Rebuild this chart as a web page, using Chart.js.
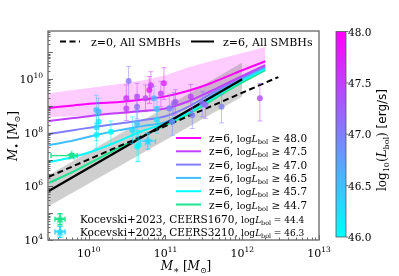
<!DOCTYPE html>
<html>
<head>
<meta charset="utf-8">
<script src="https://cdn.jsdelivr.net/npm/chart.js@4/dist/chart.umd.min.js"></script>
<style>
  html, body { margin: 0; padding: 0; background: #fff; }
  #chart { display: block; }
</style>
</head>
<body>
<canvas id="chart" width="399" height="276"></canvas>
<script>
// all values are log10

// model curves for z=6, one per luminosity cut
const curveLogMstar = [9.48, 9.8, 10.1, 10.4, 10.7, 11.0, 11.3, 11.6, 11.9, 12.3];
const curveLbolCuts = [48.0, 47.5, 47.0, 46.5, 45.7, 44.7];
const curveL480 = [8.93, 9.02, 9.10, 9.15, 9.24, 9.36, 9.57, 9.86, 10.22, 10.67];
const curveL475 = [8.44, 8.55, 8.66, 8.74, 8.81, 8.91, 9.18, 9.57, 9.98, 10.53];
const curveL470 = [7.96, 8.10, 8.23, 8.35, 8.47, 8.62, 8.98, 9.47, 9.93, 10.48];
const curveL465 = [7.54, 7.71, 7.92, 8.10, 8.25, 8.40, 8.84, 9.38, 9.87, 10.44];
const curveL457 = [6.91, 7.10, 7.36, 7.70, 8.07, 8.35, 8.75, 9.28, 9.80, 10.40];
const curveL447 = [6.13, 6.55, 7.00, 7.45, 7.88, 8.28, 8.70, 9.20, 9.72, 10.34];

// spread around the logLbol >= 48 curve
const band480Upper = [9.48, 9.60, 9.71, 9.82, 9.95, 10.15, 10.45, 10.68, 10.90, 11.20];
const band480Lower = [8.59, 8.62, 8.66, 8.70, 8.76, 8.88, 9.10, 9.42, 9.80, 10.28];

// all-SMBH relations
const allZ0LogMstar = [9.48, 12.47];
const allZ0LogMbh = [6.36, 10.08];
const allZ6LogMstar = [9.48, 12.0];
const allZ6LogMbh = [5.83, 10.0];
const allZ6BandUpper = [6.42, 10.62];
const allZ6BandLower = [5.26, 9.36];

// observed AGN, coloured by logLbol
const obsLogMstar = [10.10, 10.13, 10.10, 10.10, 10.29, 10.52, 10.49, 10.63, 10.63, 10.63, 10.57,
  10.79, 10.81, 10.74, 10.98, 10.94, 10.85, 10.89, 11.05, 11.11, 11.13, 11.09, 11.33, 11.35,
  11.48, 11.52, 11.73, 12.23, 10.63, 10.65, 10.89, 10.13, 10.49];
const obsLogMbh = [8.85, 8.79, 8.21, 7.92, 8.04, 9.93, 8.91, 9.35, 8.97, 8.35, 8.10,
  9.60, 9.78, 9.29, 9.85, 9.47, 9.29, 8.88, 8.91, 9.10, 9.16, 8.41, 9.35, 8.66,
  9.10, 9.04, 8.97, 9.29, 7.48, 7.54, 8.48, 8.41, 9.29];
const obsErrLow = [0.5, 0.45, 0.5, 0.5, 0.45, 0.7, 0.45, 0.5, 0.45, 0.5, 0.5,
  0.5, 0.55, 0.5, 0.6, 0.5, 0.45, 0.45, 0.5, 0.45, 0.45, 0.5, 0.55, 0.5,
  0.5, 0.5, 0.6, 0.85, 0.56, 0.6, 0.5, 0.45, 0.5];
const obsErrHigh = [0.55, 0.5, 0.5, 0.45, 0.4, 0.55, 0.45, 0.5, 0.45, 0.5, 0.5,
  0.5, 0.5, 0.5, 0.58, 0.45, 0.45, 0.45, 0.5, 0.4, 0.45, 0.5, 0.45, 0.45,
  0.45, 0.45, 0.45, 0.55, 0.62, 0.55, 0.5, 0.45, 0.5];
const obsLogLbol = [46.5, 46.6, 46.3, 46.1, 45.9, 47.1, 47.5, 47.4, 47.1, 46.5, 46.3,
  47.8, 47.6, 47.4, 47.7, 47.5, 46.6, 46.5, 47.0, 47.2, 47.3, 46.8, 47.5, 47.0,
  47.1, 47.2, 47.0, 47.4, 46.0, 46.1, 46.2, 46.2, 47.6];

// Kocevski+2023 sources: [logM*, logMbh, xlo, xhi, ylo, yhi]
const ceers1670 = [9.78, 7.15, 0.27, 0.07, 0.07, 0.07];
const ceers3210 = [10.77, 7.69, 0.1, 0.1, 0.3, 0.3];
const ceersLbol = [44.4, 46.3];

const xTickExps = [10, 11, 12, 13];
const yTickExps = [4, 6, 8, 10];
const cbarTicks = [46.0, 46.5, 47.0, 47.5, 48.0];

const serif = '"DejaVu Serif", serif';
const green = 'rgb(28,228,142)';

function cool(L, a) {
  const t = Math.min(1, Math.max(0, (L - 46) / 2));
  return `rgba(${Math.round(255 * t)},${Math.round(255 * (1 - t))},255,${a})`;
}
const curveColors = curveLbolCuts.map(L => L < 45 ? green : cool(L, 1));

const toPts = (xs, ys) => xs.map((v, i) => ({ x: 10 ** v, y: 10 ** ys[i] }));

function starImage(color, r) {
  const c = document.createElement('canvas');
  const s = Math.ceil(r * 2 + 2);
  c.width = c.height = s;
  const g = c.getContext('2d');
  g.fillStyle = color;
  g.beginPath();
  for (let k = 0; k < 10; k++) {
    const rr = k % 2 ? r * 0.42 : r;
    const a = -Math.PI / 2 + k * Math.PI / 5;
    g.lineTo(s / 2 + rr * Math.cos(a), s / 2 + rr * Math.sin(a));
  }
  g.closePath();
  g.fill();
  return c;
}

const curves = [curveL480, curveL475, curveL470, curveL465, curveL457, curveL447];
const lineBase = { type: 'line', showLine: true, pointRadius: 0, fill: false };

const datasets = [
  { ...lineBase, data: toPts(curveLogMstar, band480Upper), borderWidth: 0, order: 30 },
  { ...lineBase, data: toPts(curveLogMstar, band480Lower), borderWidth: 0, order: 30,
    fill: '-1', backgroundColor: 'rgba(255,0,255,0.2)' },
  { ...lineBase, data: toPts(allZ6LogMstar, allZ6BandUpper), borderWidth: 0, order: 29 },
  { ...lineBase, data: toPts(allZ6LogMstar, allZ6BandLower), borderWidth: 0, order: 29,
    fill: '-1', backgroundColor: 'rgba(128,128,128,0.38)' },
];
curves.forEach((c, i) => datasets.push({
  ...lineBase, data: toPts(curveLogMstar, c), borderColor: curveColors[i], borderWidth: 2,
  cubicInterpolationMode: 'monotone', order: 20 + i
}));
datasets.push(
  { ...lineBase, data: toPts(allZ0LogMstar, allZ0LogMbh), borderColor: '#000', borderWidth: 2,
    borderDash: [6, 3.5], order: 15 },
  { ...lineBase, data: toPts(allZ6LogMstar, allZ6LogMbh), borderColor: '#000', borderWidth: 2.2, order: 14 },
  { data: toPts(obsLogMstar, obsLogMbh), pointRadius: 3, borderWidth: 0,
    backgroundColor: obsLogLbol.map(L => cool(L, 0.8)),
    errs: obsLogMbh.map((v, i) => ({ ylo: obsErrLow[i], yhi: obsErrHigh[i], color: cool(obsLogLbol[i], 0.5) })),
    order: 10 },
  { data: [{ x: 10 ** ceers1670[0], y: 10 ** ceers1670[1] }], pointStyle: starImage(green, 5.5),
    errs: [{ xlo: ceers1670[2], xhi: ceers1670[3], ylo: ceers1670[4], yhi: ceers1670[5], color: green, w: 1.4 }],
    order: 5 },
  { data: [{ x: 10 ** ceers3210[0], y: 10 ** ceers3210[1] }], pointStyle: starImage(cool(ceersLbol[1], 1), 5.5),
    errs: [{ xlo: ceers3210[2], xhi: ceers3210[3], ylo: ceers3210[4], yhi: ceers3210[5], color: cool(ceersLbol[1], 0.8), w: 1.4 }],
    order: 4 }
);

// vertical (and horizontal) error bars with caps, drawn just under their points
const errorBars = {
  id: 'errorBars',
  beforeDatasetDraw(chart, args) {
    const ds = chart.data.datasets[args.index];
    if (!ds.errs) return;
    const { ctx, chartArea: a, scales: { x, y } } = chart;
    ctx.save();
    ctx.beginPath();
    ctx.rect(a.left, a.top, a.right - a.left, a.bottom - a.top);
    ctx.clip();
    ds.data.forEach((p, i) => {
      const e = ds.errs[i];
      const lx = Math.log10(p.x), ly = Math.log10(p.y);
      const px = x.getPixelForValue(p.x), py = y.getPixelForValue(p.y);
      ctx.strokeStyle = e.color;
      ctx.lineWidth = e.w || 1;
      ctx.beginPath();
      if (e.ylo !== undefined) {
        const y0 = y.getPixelForValue(10 ** (ly - e.ylo)), y1 = y.getPixelForValue(10 ** (ly + e.yhi));
        ctx.moveTo(px, y0); ctx.lineTo(px, y1);
        ctx.moveTo(px - 2.5, y0); ctx.lineTo(px + 2.5, y0);
        ctx.moveTo(px - 2.5, y1); ctx.lineTo(px + 2.5, y1);
      }
      if (e.xlo !== undefined) {
        const x0 = x.getPixelForValue(10 ** (lx - e.xlo)), x1 = x.getPixelForValue(10 ** (lx + e.xhi));
        ctx.moveTo(x0, py); ctx.lineTo(x1, py);
        ctx.moveTo(x0, py - 2.5); ctx.lineTo(x0, py + 2.5);
        ctx.moveTo(x1, py - 2.5); ctx.lineTo(x1, py + 2.5);
      }
      ctx.stroke();
    });
    ctx.restore();
  }
};

// draws a row of text pieces with their own fonts and vertical shifts
function drawRuns(ctx, runs, x, y, align) {
  let w = 0;
  runs.forEach(r => { ctx.font = r[1]; w += ctx.measureText(r[0]).width; });
  let cx = align === 'center' ? x - w / 2 : align === 'right' ? x - w : x;
  runs.forEach(r => {
    ctx.font = r[1];
    ctx.fillText(r[0], cx, y + (r[2] || 0));
    cx += ctx.measureText(r[0]).width;
  });
  return w;
}
const f = (size, style) => `${style || ''} ${size}px ${serif}`.trim();
const lbolRuns = (size) => [['log', f(size)], ['L', f(size, 'italic')], ['bol', f(size * 0.7), 2]];

const decorations = {
  id: 'decorations',
  afterDraw(chart) {
    const { ctx, chartArea: a, scales: { x, y } } = chart;
    ctx.save();
    ctx.fillStyle = '#000';
    ctx.textBaseline = 'alphabetic';

    // inward ticks
    ctx.strokeStyle = '#444';
    ctx.lineWidth = 0.8;
    ctx.beginPath();
    for (let e = 9; e <= 13; e++) {
      for (let m = 1; m < 10; m++) {
        const v = m * 10 ** e;
        if (v < x.min || v > x.max * 1.0001) continue;
        const px = Math.round(x.getPixelForValue(v)) + 0.5;
        ctx.moveTo(px, a.bottom); ctx.lineTo(px, a.bottom - (m === 1 ? 5 : 2.5));
      }
    }
    for (let e = 4; e <= 11; e++) {
      for (let m = 1; m < 10; m++) {
        const v = m * 10 ** e;
        if (v < y.min * 0.9999 || v > y.max) continue;
        const py = Math.round(y.getPixelForValue(v)) + 0.5;
        ctx.moveTo(a.left, py); ctx.lineTo(a.left + (m === 1 ? 5 : 2.5), py);
      }
    }
    ctx.stroke();

    // frame
    ctx.strokeStyle = '#707070';
    ctx.lineWidth = 1.4;
    ctx.strokeRect(a.left, a.top, a.right - a.left, a.bottom - a.top);

    // tick labels
    xTickExps.forEach(e => {
      const px = x.getPixelForValue(10 ** e);
      drawRuns(ctx, [['10', f(11)], [String(e), f(7.5), -5]], px, a.bottom + 17, 'center');
    });
    yTickExps.forEach(e => {
      const py = y.getPixelForValue(10 ** e);
      drawRuns(ctx, [['10', f(11)], [String(e), f(7.5), -5]], a.left - 5, py + 4, 'right');
    });

    // axis titles
    drawRuns(ctx, [['M', f(12, 'italic')], ['∗', f(9), 3], [' [', f(12)], ['M', f(12, 'italic')], ['⊙', f(8), 3], [']', f(12)]],
      186, 270, 'center');
    ctx.save();
    ctx.translate(17, 136);
    ctx.rotate(-Math.PI / 2);
    drawRuns(ctx, [['M', f(12, 'italic')], ['•', f(9), 3], [' [', f(12)], ['M', f(12, 'italic')], ['⊙', f(8), 3], [']', f(12)]],
      0, 0, 'center');
    ctx.restore();

    // top legend
    const topY = 41.5;
    ctx.lineWidth = 2;
    ctx.strokeStyle = '#000';
    ctx.setLineDash([6, 3.5]);
    ctx.beginPath(); ctx.moveTo(60, topY); ctx.lineTo(80, topY); ctx.stroke();
    ctx.setLineDash([]);
    ctx.beginPath(); ctx.moveTo(191, topY); ctx.lineTo(214, topY); ctx.stroke();
    drawRuns(ctx, [['z=0, All SMBHs', f(11)]], 91, topY + 4, 'left');
    drawRuns(ctx, [['z=6, All SMBHs', f(11)]], 223, topY + 4, 'left');

    // lower legend
    curveLbolCuts.forEach((L, i) => {
      const ry = 138 + i * 13.3;
      ctx.strokeStyle = curveColors[i];
      ctx.lineWidth = 2;
      ctx.beginPath(); ctx.moveTo(176, ry); ctx.lineTo(201, ry); ctx.stroke();
      drawRuns(ctx, [['z=6, ', f(10.5)], ...lbolRuns(9.5), [' ≥ ' + L.toFixed(1), f(10.5)]], 209, ry + 4, 'left');
    });
    [[ceers1670, 'CEERS1670', green, ceersLbol[0]], [ceers3210, 'CEERS3210', cool(ceersLbol[1], 1), ceersLbol[1]]].forEach((k, i) => {
      const ry = 219.3 + i * 12.6, mx = 60;
      ctx.strokeStyle = k[2];
      ctx.lineWidth = 1.4;
      ctx.beginPath();
      ctx.moveTo(mx - 5, ry); ctx.lineTo(mx + 5, ry);
      ctx.moveTo(mx - 5, ry - 2.5); ctx.lineTo(mx - 5, ry + 2.5);
      ctx.moveTo(mx + 5, ry - 2.5); ctx.lineTo(mx + 5, ry + 2.5);
      ctx.moveTo(mx, ry - 5.5); ctx.lineTo(mx, ry + 5.5);
      ctx.moveTo(mx - 2.5, ry - 5.5); ctx.lineTo(mx + 2.5, ry - 5.5);
      ctx.moveTo(mx - 2.5, ry + 5.5); ctx.lineTo(mx + 2.5, ry + 5.5);
      ctx.stroke();
      const img = starImage(k[2], 5.5);
      ctx.drawImage(img, mx - img.width / 2, ry - img.height / 2);
      drawRuns(ctx, [['Kocevski+2023, ' + k[1] + ', ', f(10.5)], ...lbolRuns(9), [' = ' + k[3].toFixed(1), f(9)]], 80, ry + 4, 'left');
    });

    // colour bar
    const cb = { left: 336, right: 346, top: 31.5, bottom: 237 };
    const cbMin = cbarTicks[0], cbMax = cbarTicks[cbarTicks.length - 1];
    const grad = ctx.createLinearGradient(0, cb.bottom, 0, cb.top);
    grad.addColorStop(0, cool(cbMin, 1));
    grad.addColorStop(1, cool(cbMax, 1));
    ctx.fillStyle = grad;
    ctx.fillRect(cb.left, cb.top, cb.right - cb.left, cb.bottom - cb.top);
    ctx.strokeStyle = '#555';
    ctx.lineWidth = 0.8;
    ctx.strokeRect(cb.left, cb.top, cb.right - cb.left, cb.bottom - cb.top);
    ctx.fillStyle = '#000';
    cbarTicks.forEach(t => {
      const py = cb.bottom - (t - cbMin) / (cbMax - cbMin) * (cb.bottom - cb.top);
      ctx.beginPath(); ctx.moveTo(cb.right, py); ctx.lineTo(cb.right + 2.5, py); ctx.stroke();
      drawRuns(ctx, [[t.toFixed(1), f(10.5)]], cb.right + 2, py + 4, 'left');
    });
    ctx.save();
    ctx.translate(386, 140);
    ctx.rotate(-Math.PI / 2);
    drawRuns(ctx, [['log', f(12)], ['10', f(8), 3], ['(', f(12)], ['L', f(12, 'italic')], ['bol', f(8), 3], [')', f(12)],
      [' [erg/s]', '12px "DejaVu Sans", sans-serif']], 0, 0, 'center');
    ctx.restore();

    ctx.restore();
  }
};

new Chart(document.getElementById('chart'), {
  type: 'scatter',
  data: { datasets },
  options: {
    responsive: false,
    animation: false,
    layout: { padding: { left: 48, right: 80, top: 31, bottom: 36 } },
    scales: {
      x: { type: 'logarithmic', min: 10 ** 9.47, max: 1e13, display: false },
      y: { type: 'logarithmic', min: 1e4, max: 10 ** 11.8, display: false }
    },
    plugins: { legend: { display: false }, tooltip: { enabled: false } }
  },
  plugins: [errorBars, decorations]
});
</script>
</body>
</html>
